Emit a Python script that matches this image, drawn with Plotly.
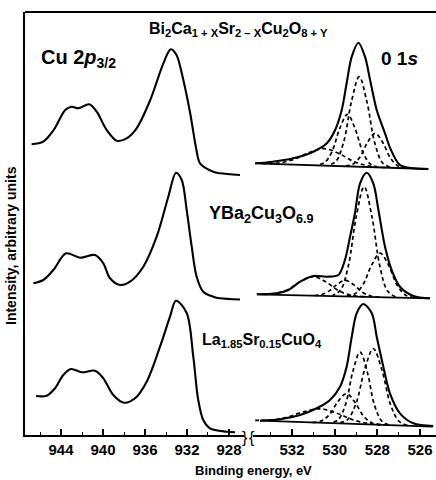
import plotly.graph_objects as go

# ---------------- data (binding energy eV, intensity arbitrary units, stacked) ----------------
# Cu 2p3/2 spectra
cu_be_bi = [946.8, 945.7, 944.7, 943.6, 943.0, 942.35, 941.3, 940.6, 939.65, 938.7, 937.75, 936.8,
            935.5, 934.25, 933.55, 933.0, 932.35, 931.7, 931.1, 930.76, 929.5, 928.86, 926.95]
cu_int_bi = [290.7, 293.3, 305, 325, 328.3, 326.7, 330.7, 323.3, 305, 294.3, 296.7, 306.7,
             335, 371.7, 385.7, 380, 355, 322, 285, 271.7, 263.3, 261.7, 260]

cu_be_ybco = [946.64, 945.69, 944.73, 943.52, 942.19, 940.76, 939.97, 939.33, 938.38, 937.43, 936.16,
              934.89, 933.78, 933.05, 932.5, 932.03, 931.55, 931.08, 930.45, 929.5, 928.86, 926.95]
cu_int_ybco = [151.7, 155, 165, 181.7, 177.3, 180, 171.7, 156.7, 150, 153.3, 168.3,
               198.3, 238.3, 262.3, 255, 225, 188.3, 158.3, 143.3, 138.3, 136.7, 135.5]

cu_be_lsco = [946.38, 945.36, 944.57, 943.78, 943.05, 942.03, 940.76, 939.97, 939.02, 938.0, 936.95,
              935.84, 934.57, 933.62, 933.05, 932.03, 931.4, 930.93, 930.45, 929.81, 928.22, 927.43]
cu_int_lsco = [39, 39.3, 46.7, 60, 66, 62.7, 64.3, 56.7, 40, 32.3, 36.7,
               53.3, 88.3, 118.3, 134.3, 122, 78.3, 35, 15, 6.7, 3.3, 2.7]

# O 1s spectra (solid envelopes)
o_be_bi = [533.73, 533.0, 531.94, 531.0, 530.37, 529.98, 529.67, 529.44, 529.2, 528.89, 528.58,
           528.34, 528.03, 527.64, 527.4, 526.94, 526.31, 525.61]
o_int_bi = [271.7, 273.0, 276.7, 283.3, 291.7, 305, 325, 351.7, 378.3, 392.3, 378.3,
            355, 325, 301.7, 287, 270, 266.7, 266]

o_be_ybco = [533.65, 532.72, 532.17, 531.62, 531.0, 530.37, 529.83, 529.52, 529.28, 529.05, 528.81,
             528.5, 528.19, 527.95, 527.64, 527.33, 526.94, 526.31, 525.53]
o_int_ybco = [140.7, 141.7, 145, 153.3, 159, 158.3, 160, 175, 198.3, 221.7, 251.7,
              262.3, 251.7, 225, 188.3, 165, 148.3, 139, 136.7]

o_be_lsco = [533.5, 532.56, 531.62, 530.84, 530.22, 529.75, 529.44, 529.2, 528.97, 528.66,
             528.26, 528.03, 527.72, 527.41, 526.94, 526.31, 525.38]
o_int_lsco = [14.3, 15.7, 20, 26.7, 35, 48.3, 68.3, 98.3, 121.7, 131,
              121.7, 98.3, 68.3, 41.7, 21.7, 11.7, 9]

# O 1s backgrounds
bg_be_bi = [533.73, 525.61]
bg_int_bi = [271.7, 266]
bg_be_ybco = [533.65, 525.53]
bg_int_ybco = [140.7, 136.7]
bg_be_lsco = [533.5, 525.4]
bg_int_lsco = [14.3, 8.3]

# O 1s fitted components (dashed)
comp_be_bi = [
    [527.41, 527.77, 528.13, 528.49, 528.85, 529.21, 529.57, 529.93, 530.29],
    [527.96, 528.32, 528.68, 529.04, 529.4, 529.76, 530.12, 530.48, 530.84],
    [526.66, 527.02, 527.38, 527.74, 528.1, 528.46, 528.82, 529.18, 529.54],
    [527.62, 528.34, 529.06, 529.78, 530.5, 531.22, 531.94, 532.66, 533.38],
]
comp_int_bi = [
    [267.8, 272.5, 292.8, 333.3, 358.3, 333.8, 293.8, 274.0, 269.8],
    [268.0, 270.8, 282.7, 306.2, 320.7, 306.7, 283.7, 272.3, 270.0],
    [266.9, 268.9, 276.7, 292.2, 301.7, 292.7, 277.7, 270.4, 269.0],
    [267.5, 268.9, 273.0, 281.3, 286.4, 282.3, 275.4, 272.0, 271.3],
]
comp_be_ybco = [
    [527.15, 527.52, 527.88, 528.25, 528.62, 528.99, 529.36, 529.72, 530.09],
    [526.27, 526.67, 527.07, 527.47, 527.87, 528.27, 528.67, 529.07, 529.47],
    [527.9, 528.3, 528.7, 529.1, 529.5, 529.9, 530.3, 530.7, 531.1],
    [528.6, 529.2, 529.8, 530.4, 531.0, 531.6, 532.2, 532.8, 533.4],
]
comp_int_ybco = [
    [138.2, 143.9, 168.5, 217.9, 248.2, 218.3, 169.2, 145.0, 139.6],
    [137.4, 139.8, 149.7, 169.6, 181.8, 169.9, 150.4, 140.9, 138.9],
    [138.0, 139.0, 142.7, 150.1, 154.6, 150.4, 143.4, 140.1, 139.5],
    [138.3, 139.6, 144.1, 152.9, 158.4, 153.5, 145.3, 141.4, 140.7],
]
comp_be_lsco = [
    [527.47, 527.8, 528.14, 528.47, 528.81, 529.15, 529.48, 529.82, 530.15],
    [526.59, 526.99, 527.39, 527.79, 528.19, 528.59, 528.99, 529.39, 529.79],
    [527.85, 528.25, 528.65, 529.05, 529.45, 529.85, 530.25, 530.65, 531.05],
    [527.5, 528.3, 529.1, 529.9, 530.7, 531.5, 532.3, 533.1, 533.9],
]
comp_int_lsco = [
    [10.2, 14.1, 30.3, 62.8, 82.8, 63.4, 31.3, 15.6, 12.2],
    [9.7, 13.8, 30.9, 65.3, 86.4, 65.9, 32.1, 15.6, 12.0],
    [10.3, 12.1, 19.0, 32.8, 41.3, 33.4, 20.2, 13.9, 12.7],
    [10.0, 11.2, 14.9, 21.8, 26.2, 23.0, 17.3, 14.8, 14.7],
]

cu_major = [944, 940, 936, 932, 928]
cu_minor = [946, 942, 938, 934, 930]
o_major = [532, 530, 528, 526]
o_minor = [533, 531, 529, 527]

# ---------------- figure ----------------
FONT = "Liberation Sans"
fig = go.Figure()

solid = dict(color="black", width=2.1, shape="spline", smoothing=0.9)
for be, it in [(cu_be_bi, cu_int_bi), (cu_be_ybco, cu_int_ybco), (cu_be_lsco, cu_int_lsco)]:
    fig.add_trace(go.Scatter(x=be, y=it, mode="lines", line=solid, xaxis="x", yaxis="y", hoverinfo="skip"))

for be, it in [(o_be_bi, o_int_bi), (o_be_ybco, o_int_ybco), (o_be_lsco, o_int_lsco)]:
    fig.add_trace(go.Scatter(x=be, y=it, mode="lines", line=solid, xaxis="x2", yaxis="y", hoverinfo="skip"))

for be, it in [(bg_be_bi, bg_int_bi), (bg_be_ybco, bg_int_ybco), (bg_be_lsco, bg_int_lsco)]:
    fig.add_trace(go.Scatter(x=be, y=it, mode="lines", line=dict(color="black", width=1.8),
                             xaxis="x2", yaxis="y", hoverinfo="skip"))

for bes, its in [(comp_be_bi, comp_int_bi), (comp_be_ybco, comp_int_ybco), (comp_be_lsco, comp_int_lsco)]:
    for be, it in zip(bes, its):
        fig.add_trace(go.Scatter(x=be, y=it, mode="lines",
                                 line=dict(color="black", width=1.7, dash="4px,3px", shape="spline", smoothing=1.0),
                                 xaxis="x2", yaxis="y", hoverinfo="skip"))

L, T, W, H = 25, 12, 411, 423
def px(x):
    return (x - L) / W
def py(y):
    return (T + H - y) / H

tickfont = dict(family=FONT, size=15, color="black", weight="bold")
axis_common = dict(showline=True, linecolor="black", linewidth=2, ticks="inside", ticklen=6,
                   tickwidth=1.6, tickcolor="black", showgrid=False, zeroline=False,
                   tickfont=tickfont, tickmode="array", anchor="y")

fig.update_layout(
    width=436, height=480,
    margin=dict(l=L, r=0, t=T, b=480 - T - H),
    paper_bgcolor="white", plot_bgcolor="white",
    showlegend=False,
    xaxis=dict(domain=[0, px(244)], range=[947.43, 926.57], tickvals=cu_major,
               minor=dict(tickvals=cu_minor, ticks="inside", ticklen=3, tickwidth=1.4, tickcolor="black"),
               **axis_common),
    xaxis2=dict(domain=[px(253), 1], range=[533.83, 525.25], tickvals=o_major,
                minor=dict(tickvals=o_minor, ticks="inside", ticklen=3, tickwidth=1.4, tickcolor="black"),
                **axis_common),
    yaxis=dict(domain=[0, 1], range=[0, 423], showline=True, linecolor="black", linewidth=2,
               showticklabels=False, ticks="", showgrid=False, zeroline=False),
)

# top frame line
fig.add_shape(type="line", xref="paper", yref="paper", x0=0, x1=1, y0=1, y1=1,
              line=dict(color="black", width=2))

def ann(text, x, y, size, xanchor="left", bold=True, angle=0):
    fig.add_annotation(text=text, x=px(x), y=py(y), xref="paper", yref="paper",
                       xanchor=xanchor, yanchor="middle", showarrow=False, textangle=angle,
                       font=dict(family=FONT, size=size, color="black", weight="bold" if bold else "normal"))

ann("Cu 2<i>p</i><sub>3/2</sub>", 39, 58, 20)
ann("Bi<sub>2</sub>Ca<sub>1 + X</sub>Sr<sub>2 \u2013 X</sub>Cu<sub>2</sub>O<sub>8 + Y</sub>", 147, 30, 16)
ann("0 1<i>s</i>", 379, 58, 19)
ann("YBa<sub>2</sub>Cu<sub>3</sub>O<sub>6.9</sub>", 207, 214, 18)
ann("La<sub>1.85</sub>Sr<sub>0.15</sub>CuO<sub>4</sub>", 200, 340, 16)
ann("Binding energy, eV", 253, 470, 13, xanchor="center")
ann("Intensity, arbitrary units", 11, 246, 14, xanchor="center", angle=-90)

# axis break marks
ann("}", 245.5, 437, 16, xanchor="center", bold=False)
ann("{", 252, 437, 16, xanchor="center", bold=False)

fig.write_html("out.html")
